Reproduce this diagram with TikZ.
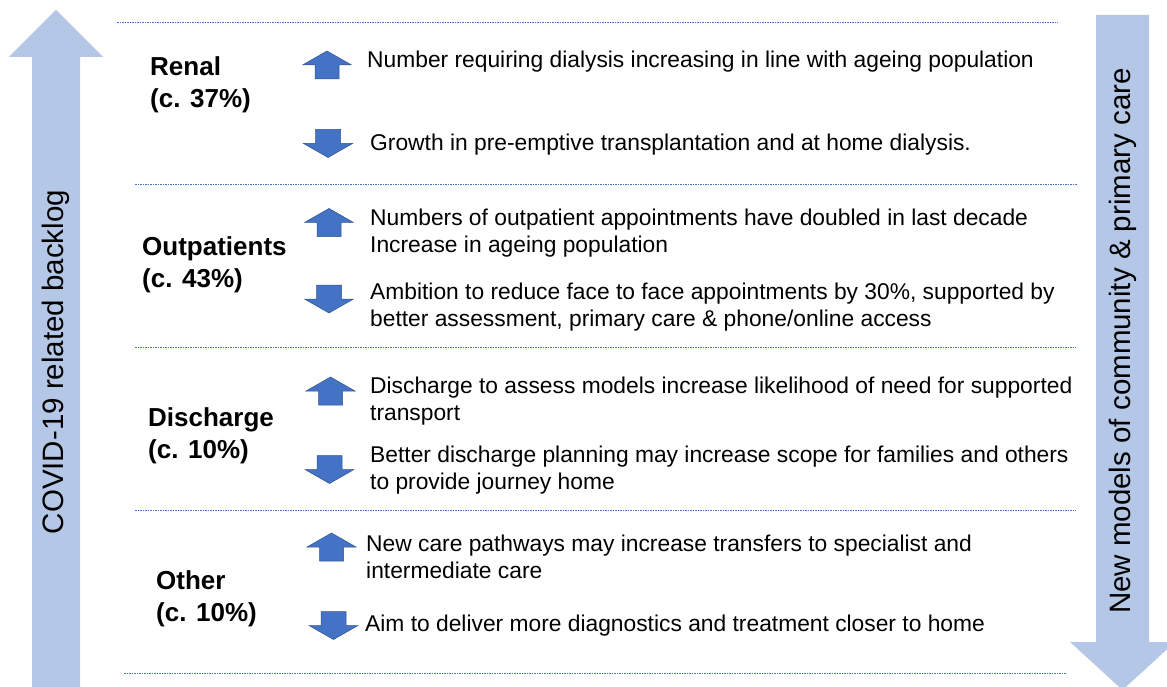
\documentclass[tikz,border=0pt]{standalone}
\usepackage{fontspec}
\setmainfont{Liberation Sans}
\definecolor{bigblue}{HTML}{B4C7E7}
\definecolor{smallblue}{HTML}{4472C4}
\definecolor{arrowedge}{HTML}{2F528F}
\definecolor{sepblue}{HTML}{4472C4}
\begin{document}
\begin{tikzpicture}[x=1pt,y=-1pt,
  body/.style={anchor=west,align=left,inner sep=0pt,font=\fontsize{22.8}{27}\selectfont},
  catlabel/.style={anchor=west,align=left,inner sep=0pt,font=\fontsize{26}{32.5}\selectfont\bfseries},
  sidetext/.style={rotate=90,inner sep=0pt,font=\fontsize{29.5}{34}\selectfont},
  sepline/.style={draw=sepblue,line width=0.8pt,dash pattern=on 1.5pt off 1pt},
  uparr/.pic={\filldraw[fill=smallblue,draw=arrowedge,line width=0.5pt]
     (0,-14) -- (24.5,0) -- (12,0) -- (12,14) -- (-12,14) -- (-12,0) -- (-24.5,0) -- cycle;},
  downarr/.pic={\filldraw[fill=smallblue,draw=arrowedge,line width=0.5pt]
     (0,14) -- (24.5,0) -- (12.5,0) -- (12.5,-14) -- (-12.5,-14) -- (-12.5,0) -- (-24.5,0) -- cycle;}
]
\useasboundingbox (0,0) rectangle (1167,687);
\clip (0,0) rectangle (1167,687);
% big side arrows
\fill[bigblue] (56,10) -- (103,57) -- (80,57) -- (80,700) -- (32,700) -- (32,57) -- (9,57) -- cycle;
\fill[bigblue] (1096,15) -- (1149,15) -- (1149,642) -- (1175,642) -- (1122.5,690) -- (1070,642) -- (1096,642) -- cycle;
\node[sidetext] (covid) at (56,362) {COVID-19 related backlog};
\node[sidetext] (newmodels) at (1123,341) {New models of community \& primary care};
% separators
\draw[sepline] (117,22.5) -- (1058,22.5);
\draw[sepline] (135,184) -- (1077,184);
\draw[sepline] (135,347) -- (1076,347);
\draw[sepline] (135,510.5) -- (1076,510.5);
\draw[sepline] (124,673) -- (1066,673);
% category labels
\node[catlabel] (renal) at (150,85) {Renal\\(c. 37\%)};
\node[catlabel] (outp) at (142,265) {Outpatients\\(c. 43\%)};
\node[catlabel] (disch) at (148,436) {Discharge\\(c. 10\%)};
\node[catlabel] (other) at (156,599) {Other\\(c. 10\%)};
% small arrows
\pic (ru) at (327,65) {uparr};
\pic (rd) at (328,143.5) {downarr};
\pic (ou) at (329,222.5) {uparr};
\pic (od) at (329,299) {downarr};
\pic (du) at (330.5,391) {uparr};
\pic (dd) at (329.5,469.5) {downarr};
\pic (tu) at (331.5,547) {uparr};
\pic (td) at (333.5,625.5) {downarr};
% texts
\node[body] (rut) at (367,62) {Number requiring dialysis increasing in line with ageing population};
\node[body] (rdt) at (370,145) {Growth in pre-emptive transplantation and at home dialysis.};
\node[body] (out) at (370,233) {Numbers of outpatient appointments have doubled in last decade\\Increase in ageing population};
\node[body] (odt) at (370,307) {Ambition to reduce face to face appointments by 30\%, supported by\\better assessment, primary care \& phone/online access};
\node[body] (dut) at (370,401.5) {Discharge to assess models increase likelihood of need for supported\\transport};
\node[body] (ddt) at (370,470) {Better discharge planning may increase scope for families and others\\to provide journey home};
\node[body] (tut) at (366,557) {New care pathways may increase transfers to specialist and\\intermediate care};
\node[body] (tdt) at (365,626) {Aim to deliver more diagnostics and treatment closer to home};
\end{tikzpicture}
\end{document}
